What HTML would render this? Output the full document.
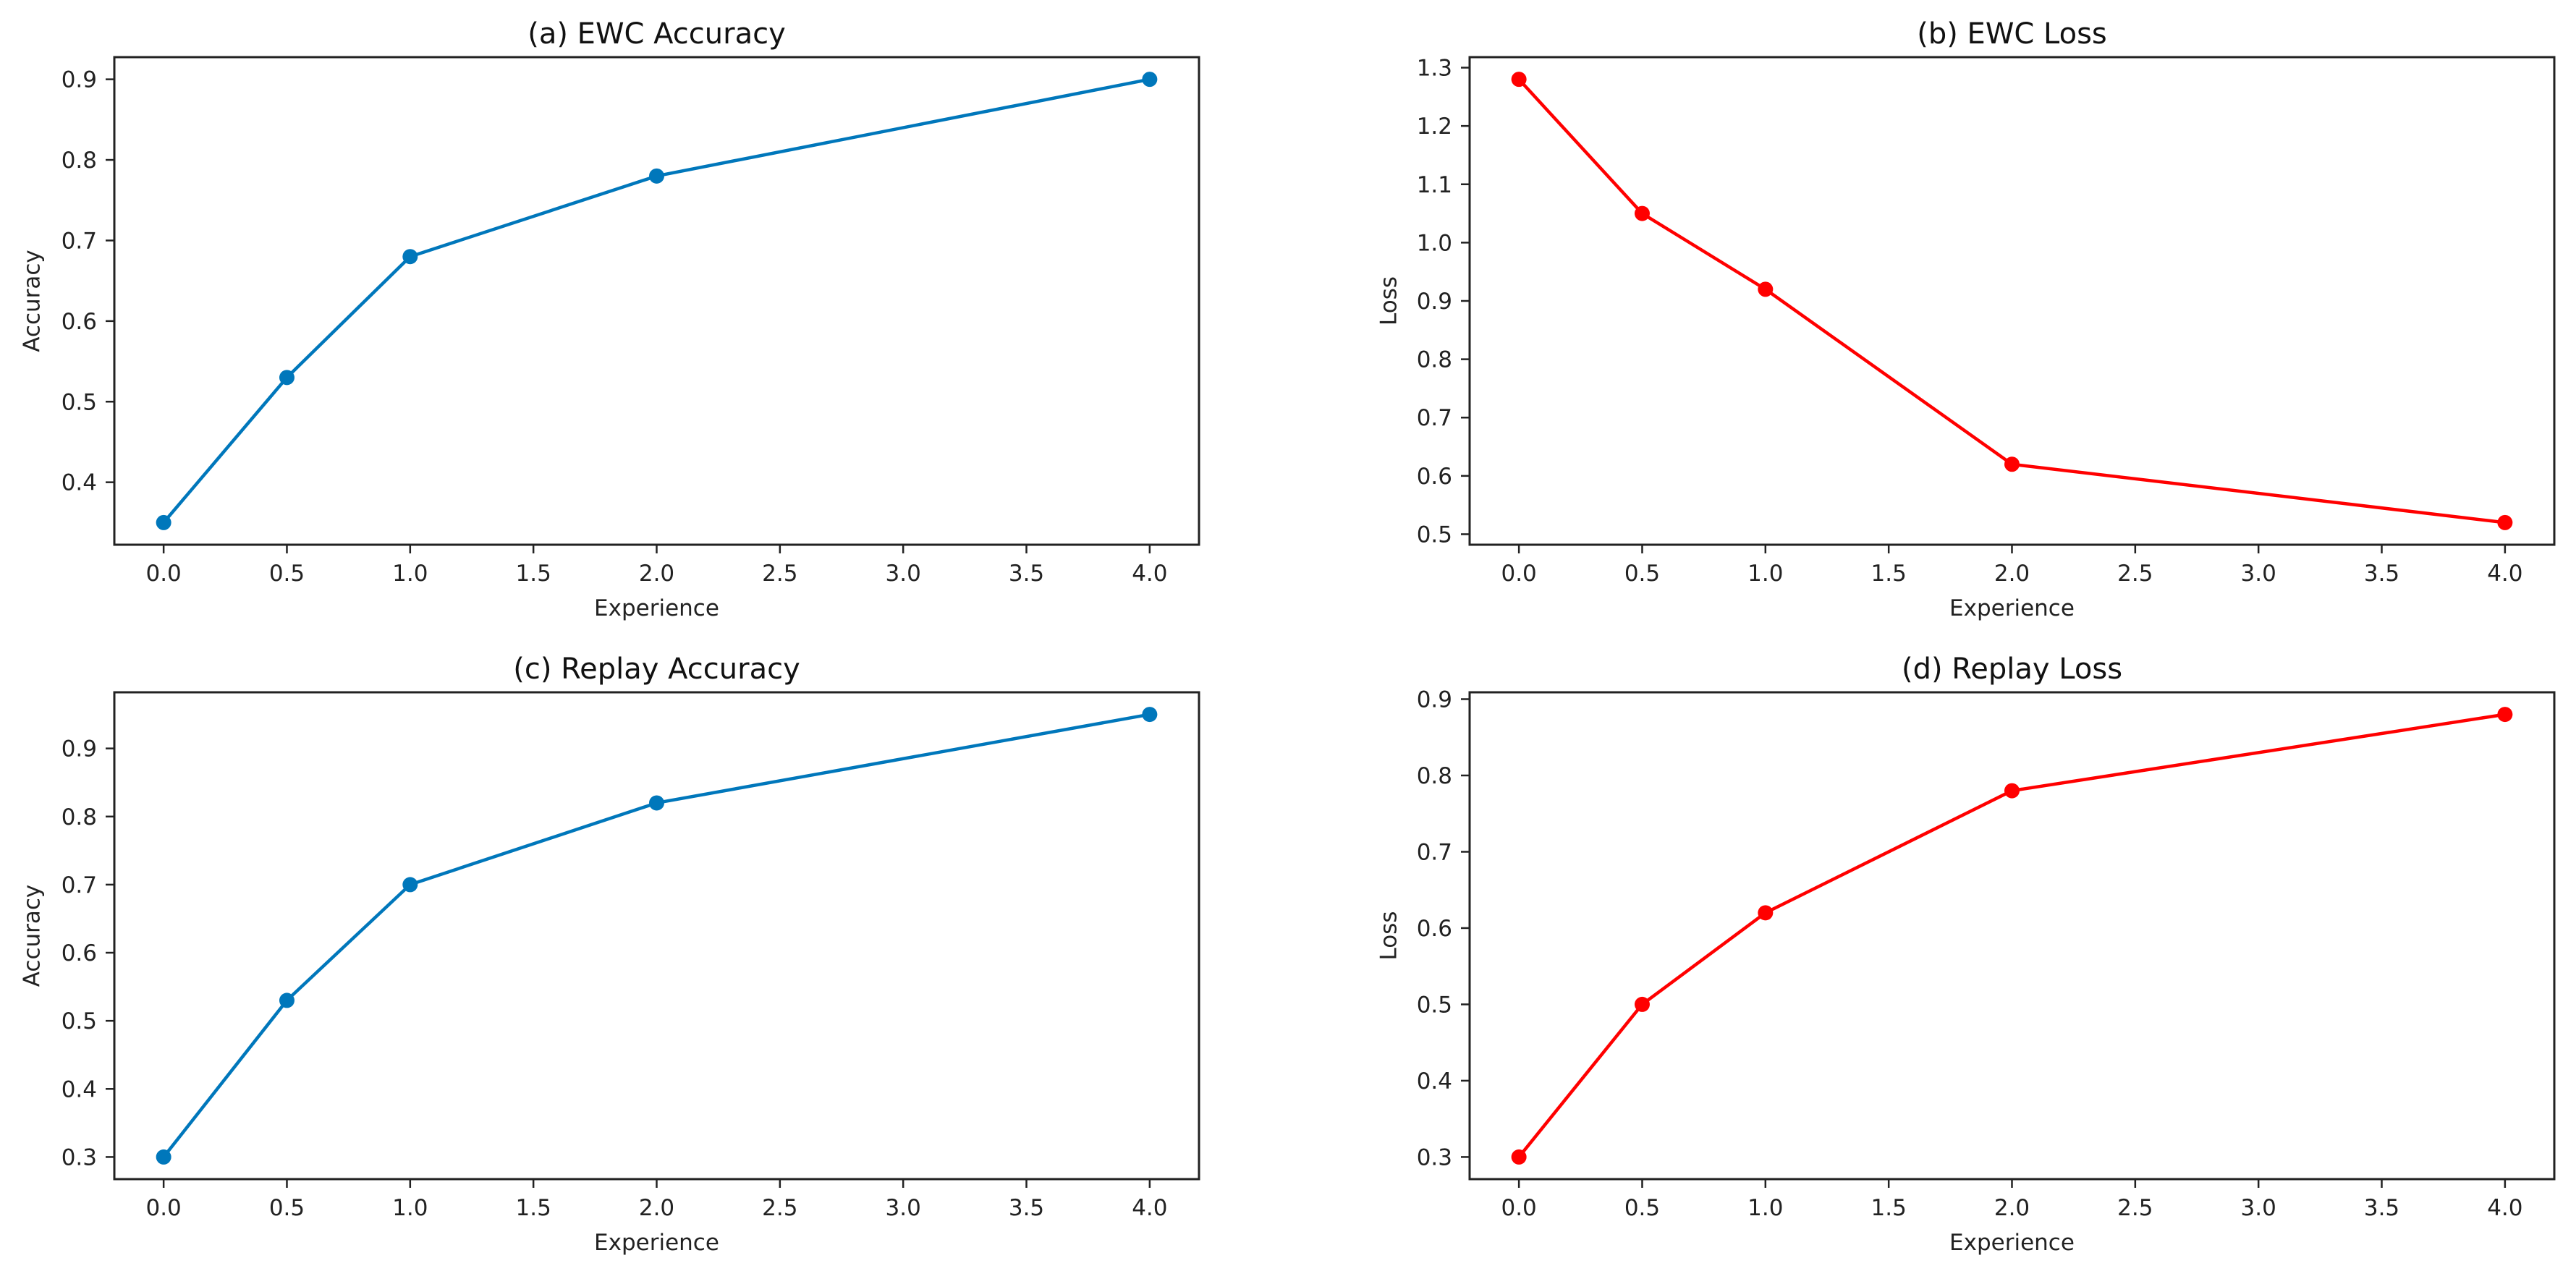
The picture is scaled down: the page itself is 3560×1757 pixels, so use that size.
<!DOCTYPE html>
<html><head><meta charset="utf-8"><style>
html,body{margin:0;padding:0;background:#fff;}
svg{display:block;font-family:"DejaVu Sans","Liberation Sans",sans-serif;}
</style></head><body>
<svg id="fig" width="3560" height="1757" viewBox="0 0 3560 1757" xmlns="http://www.w3.org/2000/svg"></svg>
<script>
const experiences = [0, 0.5, 1, 2, 4];
const ewcAccuracy = [0.35, 0.53, 0.68, 0.78, 0.90];
const ewcLoss = [1.28, 1.05, 0.92, 0.62, 0.52];
const replayAccuracy = [0.30, 0.53, 0.70, 0.82, 0.95];
const replayLoss = [0.30, 0.50, 0.62, 0.78, 0.88];
const xTicks = [0, 0.5, 1, 1.5, 2, 2.5, 3, 3.5, 4];
const yTicksA = [0.4, 0.5, 0.6, 0.7, 0.8, 0.9];
const yTicksB = [0.5, 0.6, 0.7, 0.8, 0.9, 1.0, 1.1, 1.2, 1.3];
const yTicksC = [0.3, 0.4, 0.5, 0.6, 0.7, 0.8, 0.9];
const yTicksD = [0.3, 0.4, 0.5, 0.6, 0.7, 0.8, 0.9];

const NS = "http://www.w3.org/2000/svg";
const svg = document.getElementById('fig');
function mk(tag, attrs, parent){const e=document.createElementNS(NS,tag);for(const k in attrs)e.setAttribute(k,attrs[k]);(parent||svg).appendChild(e);return e;}

const panels = [
 {key:'a', title:'(a) EWC Accuracy', ylabel:'Accuracy', ys:ewcAccuracy, yt:yTicksA, color:'#0077bb', L:158, T:79, W:1499, H:674, ylx:46},
 {key:'b', title:'(b) EWC Loss', ylabel:'Loss', ys:ewcLoss, yt:yTicksB, color:'#ff0000', L:2031, T:79, W:1499, H:674, ylx:1921},
 {key:'c', title:'(c) Replay Accuracy', ylabel:'Accuracy', ys:replayAccuracy, yt:yTicksC, color:'#0077bb', L:158, T:957, W:1499, H:673, ylx:46},
 {key:'d', title:'(d) Replay Loss', ylabel:'Loss', ys:replayLoss, yt:yTicksD, color:'#ff0000', L:2031, T:957, W:1499, H:673, ylx:1921}
];

panels.forEach(p=>{
  const g = mk('g',{});
  
  
  const xmin=Math.min(...experiences), xmax=Math.max(...experiences);
  const xm=(xmax-xmin)*0.05;
  const x0=xmin-xm, x1=xmax+xm;
  const ymin=Math.min(...p.ys), ymax=Math.max(...p.ys);
  const ym=(ymax-ymin)*0.05;
  const y0=ymin-ym, y1=ymax+ym;
  const sx=v=>p.L+(v-x0)/(x1-x0)*p.W;
  const sy=v=>p.T+p.H-(v-y0)/(y1-y0)*p.H;
  // ticks x
  xTicks.forEach(t=>{
    const X=sx(t);
    const tk=mk('line',{x1:X,x2:X,y1:p.T+p.H,y2:p.T+p.H+12,stroke:'#222','stroke-width':2.5},g);
    
    
    const tl=mk('text',{x:X,y:p.T+p.H+50,'text-anchor':'middle','font-size':31,fill:'#222'},g);
    tl.textContent=t.toFixed(1);
    
    
  });
  p.yt.forEach(t=>{
    const Y=sy(t);
    const tk=mk('line',{x1:p.L-12,x2:p.L,y1:Y,y2:Y,stroke:'#222','stroke-width':2.5},g);
    
    
    const tl=mk('text',{x:p.L-24,y:Y+11,'text-anchor':'end','font-size':31,fill:'#222'},g);
    tl.textContent=t.toFixed(1);
    
    
  });
  // series
  const pts=experiences.map((x,i)=>sx(x)+','+sy(p.ys[i])).join(' ');
  const line=mk('polyline',{points:pts,fill:'none',stroke:p.color,'stroke-width':4.5,'stroke-linejoin':'round'},g);
  
  
  experiences.forEach((x,i)=>{
    const c=mk('circle',{cx:sx(x),cy:sy(p.ys[i]),r:10.5,fill:p.color},g);
    
    
  });
  const fr=mk('rect',{x:p.L,y:p.T,width:p.W,height:p.H,fill:'none',stroke:'#222','stroke-width':3},g);
  
  
  const ti=mk('text',{x:p.L+p.W/2,y:p.T-19,'text-anchor':'middle','font-size':40,fill:'#111'},g);
  ti.textContent=p.title;
  
  
  const xl=mk('text',{x:p.L+p.W/2,y:p.T+p.H+98,'text-anchor':'middle','font-size':31,fill:'#222'},g);
  xl.textContent='Experience';
  
  
  const cy=p.T+p.H/2;
  const yl=mk('text',{x:p.ylx,y:cy,'text-anchor':'middle','font-size':31,fill:'#222',transform:'rotate(-90 '+(p.ylx)+' '+cy+')','dominant-baseline':'middle'},g);
  yl.textContent=p.ylabel;
  
  
});
</script>
</body></html>
